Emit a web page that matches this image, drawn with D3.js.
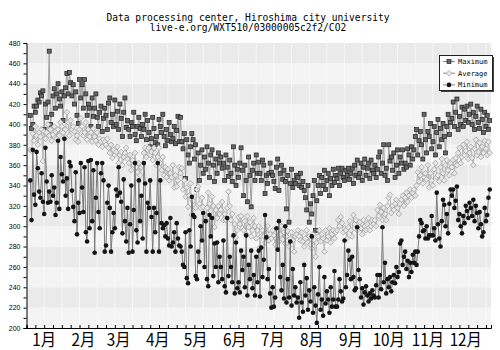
<!DOCTYPE html>
<html><head><meta charset="utf-8">
<script src="https://cdn.jsdelivr.net/npm/d3@7"></script>
<style>body{margin:0;background:#fff}svg{display:block}</style>
</head><body><svg id="c" width="500" height="350"></svg>
<script>
const titleLines = ["Data processing center, Hiroshima city university", "live-e.org/WXT510/03000005c2f2/CO2"];
const monthLabels = ["1月","2月","3月","4月","5月","6月","7月","8月","9月","10月","11月","12月"];
const monthDays = [31,28,31,30,31,30,31,31,30,31,30,31];
const yTicks = [200,220,240,260,280,300,320,340,360,380,400,420,440,460,480];
const seriesNames = ["Maximum","Average","Minimum"];

const maxValues = [
409,396,400,418,412,418,424,422,431,428,433,395,420,407,422,472,400,410,428,435,416,430,440,425,418,432,404,428,436,450,430,
451,441,428,439,420,432,409,401,444,426,439,416,444,430,409,420,416,398,426,408,416,430,407,398,412,418,393,406,
416,409,395,421,426,402,410,398,424,400,413,395,420,406,388,412,426,397,404,395,388,402,398,412,390,384,398,407,396,388,400,
395,410,385,404,392,378,386,407,396,382,388,380,405,398,392,410,388,379,395,384,402,390,383,386,398,381,394,408,383,407,
383,376,391,347,385,370,362,378,391,385,366,380,336,372,345,360,375,352,368,356,378,362,348,370,375,360,344,366,352,372,362,
368,357,362,345,370,358,349,365,352,344,378,360,340,356,348,362,377,355,330,360,345,324,368,350,319,355,362,345,370,352,
363,352,345,365,360,332,350,342,352,362,353,350,344,337,358,366,335,352,360,346,355,344,317,350,304,342,356,338,345,342,350,
348,340,352,338,344,335,328,316,340,304,322,312,330,345,296,325,340,350,332,348,340,355,336,345,352,330,347,340,356,343,350,
347,357,340,352,357,348,345,355,350,357,346,352,357,342,360,350,365,348,352,362,345,358,366,350,357,362,347,365,355,352,
360,348,356,368,373,352,362,380,350,357,345,380,364,368,355,372,348,360,375,352,368,362,375,356,362,358,376,370,360,378,366,
375,388,395,370,384,393,380,366,410,385,372,393,388,401,376,383,398,370,392,405,378,396,385,401,388,372,398,410,390,402,
406,422,398,412,425,395,408,400,417,398,415,404,418,402,410,420,400,412,395,408,418,402,396,415,405,392,412,398,409,395,404
];
const avgValues = [
375,374,391,384,398,389,380,392,388,395,364,393,386,392,400,389,395,384,390,398,393,386,395,389,402,398,392,386,395,412,402,
389,404,395,398,393,385,389,383,395,406,398,389,392,402,385,395,388,392,383,396,388,384,392,380,386,383,378,385,
383,380,386,377,372,380,367,375,370,373,378,362,370,373,360,368,372,377,366,362,370,355,365,360,372,358,353,362,350,358,360,
372,377,368,375,377,370,373,365,377,372,360,368,377,362,355,368,350,358,348,356,345,352,348,360,338,350,339,345,358,352,
357,336,345,329,338,319,330,342,311,325,329,318,336,339,322,318,328,319,312,306,318,333,322,315,329,320,299,316,308,320,312,
316,324,306,312,306,318,334,320,306,312,290,302,289,296,309,302,310,298,296,305,292,310,299,304,290,296,308,300,288,296,
300,279,290,296,290,284,293,300,286,292,288,296,291,282,288,296,285,292,300,287,294,283,290,295,280,288,294,286,275,290,292,
296,290,286,294,285,280,288,296,284,290,282,278,292,286,270,284,290,296,285,292,288,275,296,286,290,298,284,292,296,288,294,
296,306,300,309,303,294,298,296,288,299,305,296,290,311,302,306,296,300,304,298,292,306,300,296,302,308,296,300,306,302,
306,300,316,310,321,314,306,318,312,306,320,328,331,313,320,316,322,326,318,312,322,326,330,320,328,333,324,330,336,328,333,
336,330,340,353,344,350,358,342,348,352,346,360,338,352,345,340,356,362,348,350,344,358,366,352,345,360,365,355,350,362,
358,365,352,367,360,372,377,362,368,380,370,374,383,366,372,378,367,360,376,385,370,373,382,368,378,372,384,376,370,383,372
];
const minValues = [
345,306,375,331,321,373,357,334,328,352,324,312,377,344,323,334,324,350,330,338,311,323,384,317,368,351,344,386,330,347,317,
363,359,335,319,305,353,292,323,313,362,338,314,358,294,285,364,298,365,305,355,274,328,362,314,298,352,362,345,
275,281,323,340,318,275,294,313,298,336,330,358,333,324,293,346,305,285,318,274,302,340,275,316,362,296,284,345,305,330,288,
362,342,275,323,318,345,309,275,318,294,313,362,275,345,303,298,301,290,303,288,281,308,280,284,294,275,303,288,281,280,
275,262,260,294,249,244,296,280,329,311,309,251,248,275,265,300,286,313,260,305,248,241,311,290,308,251,283,260,284,245,270,
260,248,286,241,235,308,251,270,260,245,291,234,284,239,245,235,276,257,270,240,291,232,262,248,276,239,252,232,270,245,
276,231,279,250,267,311,289,248,258,234,220,240,221,230,298,277,305,250,237,262,229,300,225,248,230,285,222,258,232,240,225,
230,210,245,225,216,262,232,249,218,237,226,290,215,240,222,205,233,260,218,228,212,250,224,236,228,215,240,221,228,256,221,
221,228,248,236,226,229,286,240,252,276,267,248,270,250,237,239,299,257,248,230,239,223,235,241,232,226,234,229,237,232,
230,242,252,230,252,238,299,245,264,234,248,240,250,236,245,252,244,260,250,255,283,286,262,270,275,258,266,250,264,255,272,
264,275,262,275,290,306,303,295,296,288,300,288,291,291,310,291,298,286,333,302,288,280,305,326,321,300,312,293,322,336,
330,336,318,325,339,306,312,300,293,310,303,320,315,308,323,318,310,326,305,320,313,298,314,302,290,294,318,305,311,328,336
];

const svg = d3.select("#c");
const L = 26.5, R = 491, T = 43, B = 328;
const x = d3.scaleLinear().domain([-3, 365]).range([L, R]);
const y = d3.scaleLinear().domain([200, 480]).range([B, T]);

// title
svg.selectAll("text.title").data(titleLines).join("text")
  .attr("x", 248).attr("y", (d, i) => 21 + i * 10)
  .attr("text-anchor", "middle")
  .attr("font-family", "DejaVu Sans Mono, monospace").attr("font-size", 9.6)
  .attr("fill", "#000").text(d => d);

// background bands
const bands = d3.range(yTicks[0], yTicks[yTicks.length - 1], 20);
svg.append("g").selectAll("rect").data(bands).join("rect")
  .attr("x", L).attr("width", R - L)
  .attr("y", d => y(d + 20)).attr("height", d => y(d) - y(d + 20))
  .attr("fill", (d, i) => i % 2 ? "#eaeaea" : "#f4f4f4");

// vertical faint grid every 2 weeks
svg.append("g").selectAll("line").data(d3.range(11, 365, 14)).join("line")
  .attr("x1", d => x(d)).attr("x2", d => x(d)).attr("y1", T).attr("y2", B)
  .attr("stroke", "#fbfbfb").attr("stroke-width", 1).attr("opacity", 0.8);

// series
const series = [
  {name: seriesNames[0], values: maxValues, line: "#a0a0a0", shape: "square"},
  {name: seriesNames[1], values: avgValues, line: "#b8b8b8", shape: "diamond"},
  {name: seriesNames[2], values: minValues, line: "#7a7a7a", shape: "circle"}
];
const lineGen = d3.line().x((d, i) => x(i)).y(d => y(d));

function drawMarker(sel, shape) {
  if (shape === "square") {
    sel.append("rect").attr("x", -2).attr("y", -2).attr("width", 4).attr("height", 4)
      .attr("fill", "#666").attr("stroke", "#222").attr("stroke-width", 0.7);
  } else if (shape === "diamond") {
    sel.append("path").attr("d", "M0,-2.8L2.8,0L0,2.8L-2.8,0Z")
      .attr("fill", "#e6e6e6").attr("stroke", "#999").attr("stroke-width", 0.7);
  } else {
    sel.append("circle").attr("r", 2.3).attr("fill", "#151515");
  }
}

series.forEach(s => {
  const g = svg.append("g");
  g.append("path").datum(s.values).attr("d", lineGen)
    .attr("fill", "none").attr("stroke", s.line).attr("stroke-width", 1);
  const m = g.selectAll("g").data(s.values).join("g")
    .attr("transform", (d, i) => `translate(${x(i)},${y(d)})`);
  drawMarker(m, s.shape);
});

// y axis
const yAxis = d3.axisLeft(y).tickValues(d3.range(200, 481, 10)).tickSize(3).tickPadding(3)
  .tickFormat(d => d % 20 === 0 ? d : "");
const ya = svg.append("g").attr("transform", `translate(${L},0)`).call(yAxis);
ya.select(".domain").attr("stroke", "#000");
ya.selectAll("line").attr("stroke", "#000");
ya.selectAll("text").attr("font-family", "Liberation Sans, Arial, sans-serif").attr("font-size", 7).attr("fill", "#000");

// x axis
const xAxis = d3.axisBottom(x).tickValues(d3.range(-3, 366, 7)).tickSize(-3).tickFormat("");
const xa = svg.append("g").attr("transform", `translate(0,${B})`).call(xAxis);
xa.select(".domain").attr("stroke", "#000");
xa.selectAll("line").attr("stroke", "#000");

// month labels
const monthStart = d3.cumsum([0].concat(monthDays.slice(0, -1)));
svg.append("g").selectAll("text").data(monthLabels).join("text")
  .attr("transform", (d, i) => `translate(${x(monthStart[i] + 11)},346) scale(0.9,1)`)
  .attr("text-anchor", "middle")
  .attr("font-family", "Noto Sans CJK JP, sans-serif").attr("font-size", 17)
  .attr("fill", "#000").text(d => d);

// legend
const lg = svg.append("g");
lg.append("rect").attr("x", 441).attr("y", 57).attr("width", 53).attr("height", 35).attr("fill", "#444");
lg.append("rect").attr("x", 439.5).attr("y", 55.5).attr("width", 53).attr("height", 35)
  .attr("fill", "#fff").attr("stroke", "#222").attr("stroke-width", 1);
series.forEach((s, i) => {
  const yy = 61.5 + i * 11.7;
  lg.append("line").attr("x1", 443).attr("x2", 455).attr("y1", yy).attr("y2", yy)
    .attr("stroke", "#888");
  drawMarker(lg.append("g").attr("transform", `translate(449,${yy})`), s.shape);
  lg.append("text").attr("x", 458).attr("y", yy + 2.5)
    .attr("font-family", "DejaVu Sans Mono, monospace").attr("font-size", 7)
    .attr("fill", "#000").text(s.name);
});
</script></body></html>
